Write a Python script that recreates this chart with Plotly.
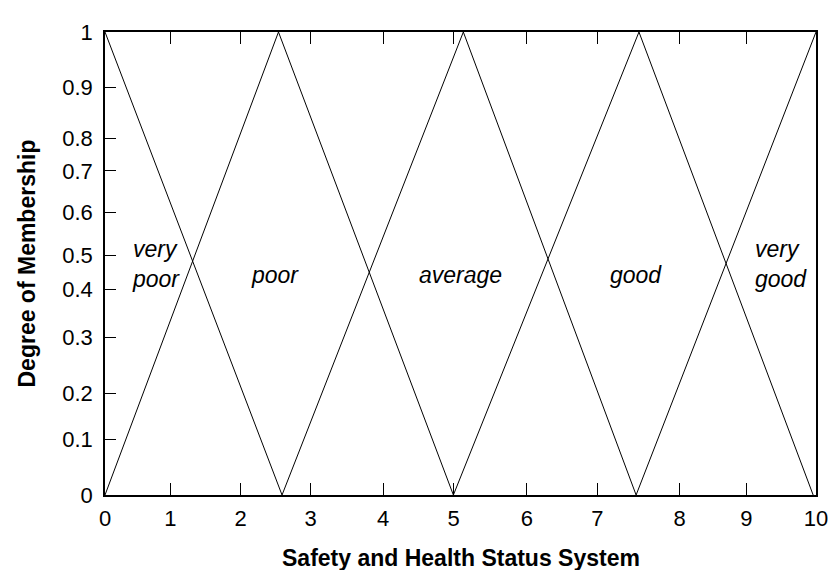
import plotly.graph_objects as go

# membership functions (x breakpoints, membership degrees)
sets = {
    "very poor": ([0.0, 2.49], [1.0, 0.0]),
    "poor": ([0.0, 2.44, 4.90], [0.0, 1.0, 0.0]),
    "average": ([2.49, 5.04, 7.47], [0.0, 1.0, 0.0]),
    "good": ([4.90, 7.51, 9.96], [0.0, 1.0, 0.0]),
    "very good": ([7.47, 10.0], [0.0, 1.0]),
}

# tick labels as printed on the original axes
x_tick_labels = ["0", "1", "2", "3", "4", "5", "6", "7", "8", "9", "10"]
x_tick_pos = [0.0, 0.918, 1.908, 2.893, 3.910, 4.904, 5.935, 6.924, 8.083, 9.020, 10.0]
y_tick_labels = ["0", "0.1", "0.2", "0.3", "0.4", "0.5", "0.6", "0.7", "0.8", "0.9", "1"]
y_tick_pos = [0.0, 0.120, 0.220, 0.340, 0.444, 0.517, 0.610, 0.700, 0.770, 0.880, 1.0]

# set labels: (text, x, y, anchor)
set_labels = [
    ("very<br>poor", 0.35, 0.50, "left"),
    ("poor", 2.39, 0.475, "center"),
    ("average", 5.0, 0.475, "center"),
    ("good", 7.47, 0.475, "center"),
    ("very<br>good", 9.11, 0.50, "left"),
]

FONT = "Liberation Sans, Arial, Helvetica, sans-serif"

W, H = 836, 570
ML, MR, MT, MB = 97, 28, 13, 83
pw, ph = W - ML - MR, H - MT - MB

fig = go.Figure()
for name, (xs, ys) in sets.items():
    fig.add_trace(go.Scatter(x=xs, y=ys, mode="lines", name=name,
                             line=dict(color="black", width=1), showlegend=False,
                             hoverinfo="skip"))

for text, x, y, anchor in set_labels:
    fig.add_annotation(x=x, y=y, xref="x", yref="y", text=text, showarrow=False,
                       xanchor=anchor, yanchor="middle", align="left",
                       font=dict(family=FONT, size=23, color="black", style="italic"))

fig.add_annotation(x=0.5, y=(H - MB - 552) / ph, xref="paper", yref="paper",
                   text="<b>Safety and Health Status System</b>",
                   showarrow=False, xanchor="center", yanchor="middle",
                   font=dict(family=FONT, size=23, color="black"))
fig.add_annotation(x=(18 - ML) / pw, y=0.5, xref="paper", yref="paper",
                   text="<b>Degree of Membership</b>",
                   showarrow=False, xanchor="center", yanchor="middle", textangle=-90,
                   font=dict(family=FONT, size=23, color="black"))

fig.update_layout(
    width=W, height=H,
    margin=dict(l=ML, r=MR, t=MT, b=MB, pad=0),
    paper_bgcolor="white", plot_bgcolor="white",
    font=dict(family=FONT, size=22, color="black"),
    xaxis=dict(range=[0, 10], tickmode="array", tickvals=x_tick_pos, ticktext=x_tick_labels,
               ticks="inside", ticklen=12, tickwidth=1, tickcolor="black",
               showline=True, linecolor="black", linewidth=1.5, mirror="ticks",
               showgrid=False, zeroline=False, ticklabelstandoff=3,
               tickfont=dict(size=22)),
    yaxis=dict(range=[0, 1], tickmode="array", tickvals=y_tick_pos, ticktext=y_tick_labels,
               ticks="inside", ticklen=11, tickwidth=1, tickcolor="black",
               showline=True, linecolor="black", linewidth=1.5, mirror=True,
               showgrid=False, zeroline=False, ticklabelstandoff=6,
               tickfont=dict(size=22)),
)

fig.write_html("out.html")
